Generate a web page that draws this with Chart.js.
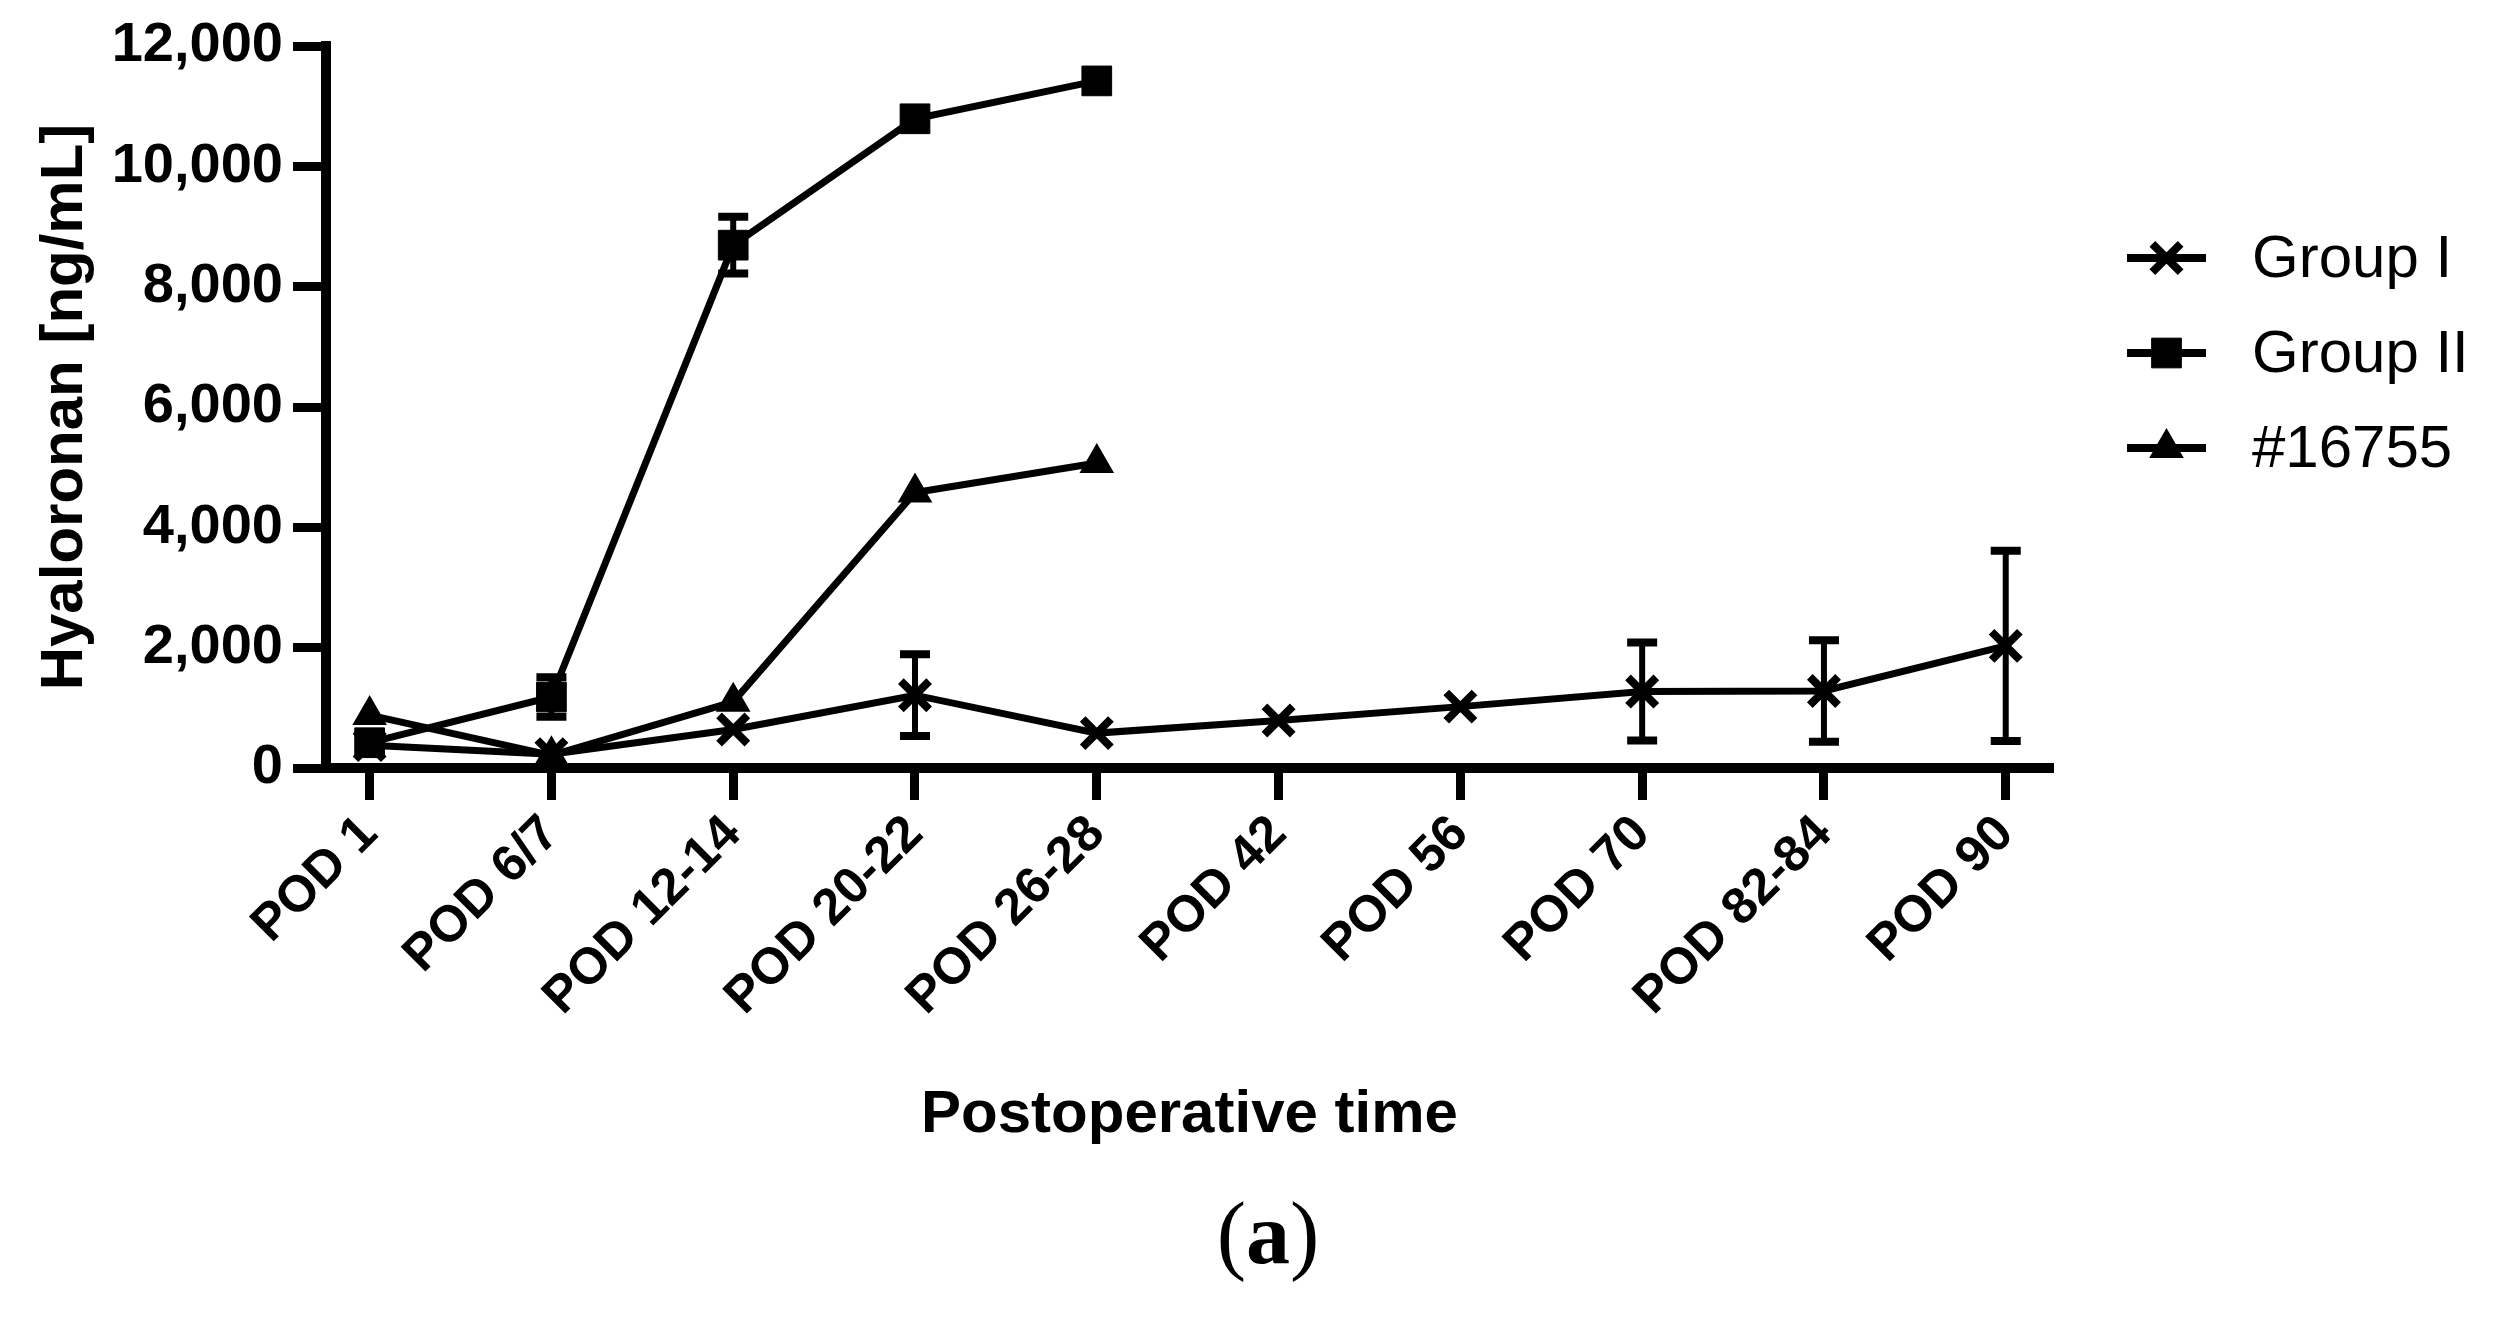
<!DOCTYPE html>
<html>
<head>
<meta charset="utf-8">
<script src="https://cdn.jsdelivr.net/npm/chart.js@4.4.1/dist/chart.umd.min.js"></script>
<style>
  html, body { margin: 0; padding: 0; background: #fff; }
  canvas { display: block; }
</style>
</head>
<body>
<canvas id="myChart" width="2495" height="1320"></canvas>
<script>
const ctx = document.getElementById('myChart').getContext('2d');

// Chart data
const timePoints = ['POD 1', 'POD 6/7', 'POD 12-14', 'POD 20-22', 'POD 26-28',
                    'POD 42', 'POD 56', 'POD 70', 'POD 82-84', 'POD 90'];
const groupI = [380, 230, 640, 1210, 580, 790, 1020, 1270, 1280, 2030];
const groupIError = [0, 0, 0, 680, 0, 0, 0, 815, 845, 1580];
const groupII = [420, 1180, 8690, 10790, 11420, null, null, null, null, null];
const groupIIError = [0, 330, 470, 0, 0, 0, 0, 0, 0, 0];
const animal16755 = [880, 210, 1100, 4580, 5070, null, null, null, null, null];
const yMax = 12000;
const yStep = 1000;

const FONT = '"Liberation Sans", Arial, sans-serif';
const SERIF = '"Liberation Serif", "Times New Roman", serif';
const toPoints = arr => arr.map((v, i) => ({ x: i, y: v }));

// Error bars (mean +/- SD)
const errorBars = {
    id: 'errorBars',
    afterDatasetsDraw(chart) {
        const { ctx, scales: { x, y } } = chart;
        ctx.save();
        ctx.strokeStyle = '#000';
        ctx.lineCap = 'butt';
        chart.data.datasets.forEach(ds => {
            if (!ds.errors) return;
            ds.data.forEach((p, i) => {
                const e = ds.errors[i];
                if (!e || p.y == null) return;
                const px = x.getPixelForValue(p.x);
                const top = y.getPixelForValue(p.y + e);
                const bot = y.getPixelForValue(p.y - e);
                ctx.lineWidth = 6;
                ctx.beginPath(); ctx.moveTo(px, top); ctx.lineTo(px, bot); ctx.stroke();
                ctx.lineWidth = 8;
                ctx.beginPath();
                ctx.moveTo(px - 15, top); ctx.lineTo(px + 15, top);
                ctx.moveTo(px - 15, bot); ctx.lineTo(px + 15, bot);
                ctx.stroke();
            });
        });
        ctx.restore();
    }
};

// Minor ticks on the y axis, legend and panel letter
const extras = {
    id: 'extras',
    afterDraw(chart) {
        const { ctx, scales: { y }, chartArea } = chart;
        ctx.save();
        ctx.strokeStyle = '#000';
        ctx.fillStyle = '#000';
        ctx.lineWidth = 9;
        y.ticks.forEach(t => {
            if (t.value % 2000 === 0) return;
            const py = y.getPixelForValue(t.value);
            ctx.beginPath();
            ctx.moveTo(chartArea.left - 19, py);
            ctx.lineTo(chartArea.left, py);
            ctx.stroke();
        });

        // legend
        const lx = chartArea.right + 74;
        chart.data.datasets.forEach((ds, i) => {
            const ly = 258 + i * 95;
            ctx.lineWidth = 8;
            ctx.beginPath();
            ctx.moveTo(lx, ly);
            ctx.lineTo(lx + 79, ly);
            ctx.stroke();
            ctx.lineWidth = ds.pointBorderWidth;
            Chart.helpers.drawPoint(ctx, {
                pointStyle: ds.pointStyle,
                radius: ds.pointRadius,
                borderWidth: ds.pointBorderWidth,
                rotation: 0
            }, lx + 39.5, ly);
            ctx.font = '60px ' + FONT;
            ctx.textAlign = 'left';
            ctx.textBaseline = 'middle';
            ctx.fillText(ds.label, lx + 125, ly + 2);
        });

        // panel letter (a)
        const cx = 1268, cy = 1240;
        ctx.textBaseline = 'middle';
        ctx.textAlign = 'left';
        ctx.font = '88px ' + SERIF;
        const wp = ctx.measureText('(').width;
        const wcp = ctx.measureText(')').width;
        ctx.font = 'bold 88px ' + SERIF;
        const wa = ctx.measureText('a').width;
        const sx = cx - (wp + wa + wcp) / 2;
        ctx.font = '88px ' + SERIF;
        ctx.fillText('(', sx, cy);
        ctx.font = 'bold 88px ' + SERIF;
        ctx.fillText('a', sx + wp, cy);
        ctx.font = '88px ' + SERIF;
        ctx.fillText(')', sx + wp + wa, cy);
        ctx.restore();
    }
};

const lineStyle = {
    borderColor: '#000',
    backgroundColor: '#000',
    pointBackgroundColor: '#000',
    pointBorderColor: '#000',
    borderWidth: 7,
    tension: 0,
    spanGaps: false
};

const data = {
    datasets: [{
        ...lineStyle,
        label: 'Group I',
        data: toPoints(groupI),
        errors: groupIError,
        pointStyle: 'crossRot',
        pointRadius: 20,
        pointBorderWidth: 8
    }, {
        ...lineStyle,
        label: 'Group II',
        data: toPoints(groupII),
        errors: groupIIError,
        pointStyle: 'rect',
        pointRadius: 21,
        pointBorderWidth: 1
    }, {
        ...lineStyle,
        label: '#16755',
        data: toPoints(animal16755),
        pointStyle: 'triangle',
        pointRadius: 18,
        pointBorderWidth: 2
    }]
};

const config = {
    type: 'line',
    data: data,
    options: {
        responsive: false,
        devicePixelRatio: 1,
        animation: false,
        layout: {
            padding: { left: 0, top: 46, right: 442, bottom: 169 }
        },
        scales: {
            x: {
                type: 'linear',
                min: -0.24,
                max: 9.26,
                afterBuildTicks: axis => {
                    axis.ticks = timePoints.map((_, i) => ({ value: i }));
                },
                afterFit: axis => { axis.height = 383; },
                grid: {
                    drawOnChartArea: false,
                    tickLength: 32,
                    tickWidth: 9,
                    tickColor: '#000'
                },
                border: { display: true, color: '#000', width: 10 },
                ticks: {
                    autoSkip: false,
                    minRotation: 45,
                    maxRotation: 45,
                    padding: 4,
                    color: '#000',
                    font: { family: FONT, size: 51, weight: 'bold' },
                    callback: v => timePoints[v]
                },
                title: {
                    display: true,
                    text: 'Postoperative time',
                    color: '#000',
                    padding: { top: 0, bottom: 0 },
                    font: { family: FONT, size: 60, weight: 'bold' }
                }
            },
            y: {
                min: 0,
                max: yMax,
                afterFit: axis => { axis.width = 326; },
                grid: {
                    drawOnChartArea: false,
                    tickLength: 33,
                    tickWidth: 9,
                    tickColor: c => (c.tick && c.tick.value % 2000 !== 0) ? 'rgba(0,0,0,0)' : '#000'
                },
                border: { display: true, color: '#000', width: 10 },
                ticks: {
                    stepSize: yStep,
                    padding: 10,
                    color: '#000',
                    font: { family: FONT, size: 56, weight: 'bold' },
                    callback: v => v % 2000 === 0 ? v.toLocaleString('en-US') : ''
                },
                title: {
                    display: true,
                    text: 'Hyaloronan [ng/mL]',
                    color: '#000',
                    padding: { top: 29, bottom: 0 },
                    font: { family: FONT, size: 60, weight: 'bold' }
                }
            }
        },
        plugins: {
            legend: { display: false },
            tooltip: { enabled: false }
        }
    },
    plugins: [errorBars, extras]
};

new Chart(ctx, config);
</script>
</body>
</html>
